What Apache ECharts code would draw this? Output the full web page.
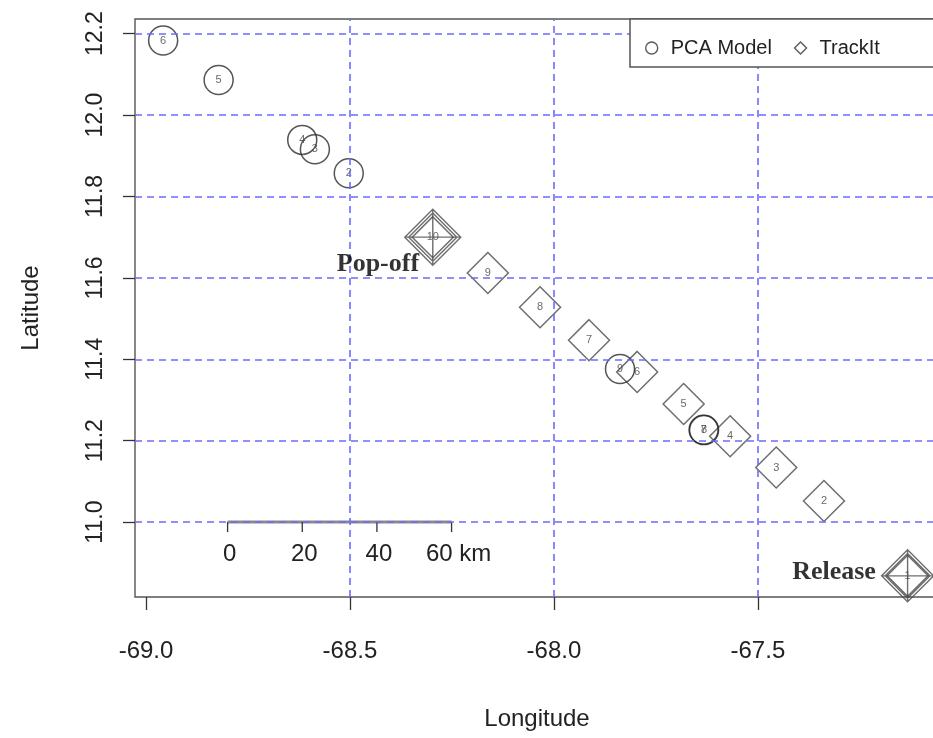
<!DOCTYPE html>
<html>
<head>
<meta charset="utf-8">
<script src="https://cdn.jsdelivr.net/npm/echarts@6/dist/echarts.min.js"></script>
<style>
  html, body { margin: 0; padding: 0; background: #ffffff; }
  #chart { width: 933px; height: 738px; }
</style>
</head>
<body>
<div id="chart"></div>
<script>
// TrackIt daily positions: day 1 is the release, day 10 the pop-off
const trackDays = [1, 2, 3, 4, 5, 6, 7, 8, 9, 10];
const trackLon = [-67.133, -67.338, -67.455, -67.568, -67.682, -67.796, -67.914, -68.034, -68.162, -68.297];
const trackLat = [10.868, 11.052, 11.134, 11.211, 11.290, 11.369, 11.447, 11.528, 11.612, 11.700];

// PCA model daily positions
const pcaDays = [2, 3, 4, 5, 6, 7, 8, 9];
const pcaLon = [-68.503, -68.586, -68.617, -68.822, -68.958, -67.633, -67.632, -67.838];
const pcaLat = [11.857, 11.916, 11.939, 12.086, 12.183, 11.227, 11.226, 11.376];

// Event markers (by TrackIt day)
const eventNames = ['Pop-off', 'Release'];
const eventDays = [10, 1];

// Axis ticks and reference lines
const lonTicks = [-69.0, -68.5, -68.0, -67.5];
const latTicks = [11.0, 11.2, 11.4, 11.6, 11.8, 12.0, 12.2];
const lonGrid = [-68.5, -68.0, -67.5];

// Distance scale bar (km), anchored at a lon/lat position
const scaleKm = [0, 20, 40, 60];
const scaleOrigin = [-68.80, 11.0];

const SANS = '"Liberation Sans", Arial, Helvetica, sans-serif';
const SERIF = '"Liberation Serif", "Times New Roman", serif';
const GRID_BLUE = '#6b6bff';

// double diamond with a cross through it
const eventSymbol = 'path://M0,-50L50,0L0,50L-50,0Z M0,-43L43,0L0,43L-43,0Z M0,-50L0,50 M-50,0L50,0';

const trackData = trackDays.map((d, i) => [trackLon[i], trackLat[i], d]);
const pcaData = pcaDays.map((d, i) => [pcaLon[i], pcaLat[i], d]);
const eventData = eventNames.map((name, i) => {
  const k = trackDays.indexOf(eventDays[i]);
  return {
    name: name,
    value: [trackLon[k], trackLat[k]],
    symbolSize: name === 'Pop-off' ? 56 : 52,
    label: name === 'Pop-off' ? { offset: [20, 27] } : { offset: [0, -4] }
  };
});

const gridLines = latTicks.map(v => ({ yAxis: v })).concat(lonGrid.map(v => ({ xAxis: v })));

const chart = echarts.init(document.getElementById('chart'), null, { renderer: 'canvas' });

chart.setOption({
  animation: false,
  backgroundColor: '#ffffff',
  textStyle: { fontFamily: SANS },
  grid: {
    left: 135, top: 19, width: 804, height: 578,
    outerBoundsMode: 'none', containLabel: false,
    show: true, borderColor: '#555555', borderWidth: 1.4, backgroundColor: 'transparent'
  },
  xAxis: {
    type: 'value', min: -69.027, max: -67.056,
    name: 'Longitude', nameLocation: 'middle', nameGap: 110,
    nameTextStyle: { fontSize: 24, color: '#222', fontFamily: SANS },
    axisLine: { show: false },
    axisTick: { show: true, customValues: lonTicks, length: 13, lineStyle: { color: '#333', width: 1.3 } },
    axisLabel: {
      customValues: lonTicks, margin: 42, fontSize: 24, color: '#222', fontFamily: SANS,
      formatter: v => v.toFixed(1)
    },
    splitLine: { show: false }
  },
  yAxis: {
    type: 'value', min: 10.816, max: 12.236,
    name: 'Latitude', nameLocation: 'middle', nameGap: 92,
    nameTextStyle: { fontSize: 24, color: '#222', fontFamily: SANS },
    axisLine: { show: false },
    axisTick: { show: true, customValues: latTicks, length: 12, lineStyle: { color: '#333', width: 1.3 } },
    axisLabel: {
      customValues: latTicks, margin: 28, rotate: 90, fontSize: 23, color: '#222', fontFamily: SANS,
      formatter: v => v.toFixed(1)
    },
    splitLine: { show: false }
  },
  legend: {
    left: 640, top: 33, itemGap: 22, itemWidth: 12, itemHeight: 12,
    z: 10,
    textStyle: { fontSize: 20, color: '#222', fontFamily: SANS, padding: [0, 0, 0, 8] },
    data: [
      { name: 'PCA Model', icon: 'circle', itemStyle: { color: 'transparent', borderColor: '#333', borderWidth: 1.4 } },
      { name: 'TrackIt', icon: 'diamond', itemStyle: { color: 'transparent', borderColor: '#333', borderWidth: 1.4 } }
    ]
  },
  graphic: [{
    type: 'rect', z: 9,
    shape: { x: 630, y: 19, width: 320, height: 48 },
    style: { fill: '#ffffff', stroke: '#555555', lineWidth: 1.5 }
  }],
  series: [
    {
      name: 'scale bar', type: 'custom', z: 1, silent: true,
      data: [[scaleOrigin[0], scaleOrigin[1]]],
      renderItem: function (params, api) {
        const kmPerDeg = 111.32 * Math.cos(scaleOrigin[1] * Math.PI / 180);
        const pts = scaleKm.map(k => api.coord([scaleOrigin[0] + k / kmPerDeg, scaleOrigin[1]]));
        const last = pts.length - 1;
        const children = [{
          type: 'line',
          shape: { x1: pts[0][0], y1: pts[0][1], x2: pts[last][0], y2: pts[last][1] },
          style: { stroke: '#8a8a8a', lineWidth: 3 }
        }];
        pts.forEach((p, i) => {
          children.push({
            type: 'line',
            shape: { x1: p[0], y1: p[1], x2: p[0], y2: p[1] + 10 },
            style: { stroke: '#333', lineWidth: 1.3 }
          });
          children.push({
            type: 'text', x: p[0] + (i === last ? 7 : 2), y: p[1] + 32,
            style: {
              text: i === last ? scaleKm[i] + ' km' : String(scaleKm[i]),
              fontSize: 24, fill: '#222', fontFamily: SANS, align: 'center', verticalAlign: 'middle'
            }
          });
        });
        return { type: 'group', children: children };
      }
    },
    {
      name: 'grid lines', type: 'scatter', data: [], z: 2, silent: true,
      markLine: {
        silent: true, symbol: 'none', label: { show: false },
        lineStyle: { color: GRID_BLUE, width: 1.6, type: [7, 5] },
        data: gridLines
      }
    },
    {
      name: 'TrackIt', type: 'scatter', z: 3,
      symbol: 'diamond', symbolSize: 41,
      itemStyle: { color: 'transparent', borderColor: '#4a4a4a', borderWidth: 1.5 },
      label: {
        show: true, position: 'inside', fontSize: 11, color: '#444', fontFamily: SANS,
        formatter: p => String(p.value[2])
      },
      data: trackData
    },
    {
      name: 'PCA Model', type: 'scatter', z: 4,
      symbol: 'circle', symbolSize: 29,
      itemStyle: { color: 'transparent', borderColor: '#2a2a2a', borderWidth: 1.5 },
      label: {
        show: true, position: 'inside', fontSize: 11, color: '#444', fontFamily: SANS,
        formatter: p => String(p.value[2])
      },
      data: pcaData
    },
    {
      name: 'events', type: 'scatter', z: 5,
      symbol: eventSymbol, symbolKeepAspect: true,
      itemStyle: { color: 'transparent', borderColor: '#4a4a4a', borderWidth: 1.4 },
      label: {
        show: true, position: 'left', distance: 5,
        fontSize: 26, fontWeight: 'bold', color: '#000', fontFamily: SERIF,
        formatter: p => p.name
      },
      data: eventData
    }
  ]
});
</script>
</body>
</html>
